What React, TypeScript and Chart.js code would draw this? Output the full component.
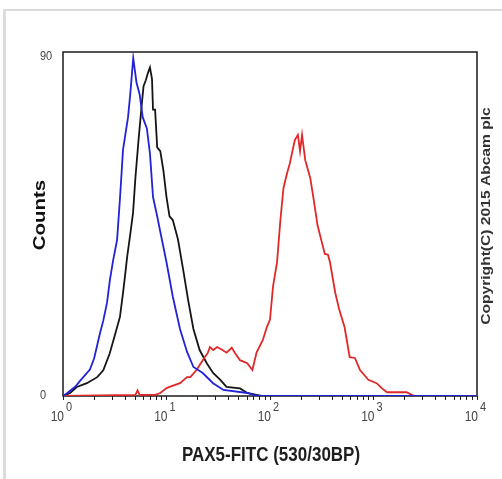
import React, { useEffect, useRef } from "react";
import { Chart, registerables } from "chart.js";

Chart.register(...registerables);

// Fluorescence intensity (channel value) and counts for each histogram
const blueX = [1.0, 1.1, 1.32, 1.46, 1.82, 2.0, 2.28, 2.45, 2.66, 2.84, 3.05, 3.33, 3.56, 3.8, 4.25, 4.46, 4.64, 4.77, 5.13, 5.5, 5.89, 6.46, 6.92, 7.41, 8.13, 8.71, 10.0, 11.5, 13.5, 15.8, 18.2, 22.4, 28.2, 35.5, 60.3, 69.2, 79.4, 10000];
const blueY = [0, 0.8, 2.5, 4, 7, 10, 16.7, 20, 24.7, 30.8, 36, 41.4, 52.8, 65.3, 74, 80, 85.7, 89.7, 83.2, 80.1, 74, 71, 64.4, 52.8, 47.7, 43.6, 35.5, 26.4, 17.8, 11.7, 7.7, 6.1, 3.4, 1.6, 0.8, 0.3, 0, 0];

const blackX = [1.0, 1.17, 1.36, 1.7, 2.14, 2.45, 2.82, 3.16, 3.55, 3.8, 3.98, 4.17, 4.47, 4.75, 5.01, 5.37, 5.75, 6.0, 6.31, 6.61, 6.92, 7.24, 7.41, 7.76, 8.13, 8.71, 9.33, 10.0, 10.7, 11.5, 12.9, 14.5, 16.2, 18.2, 20.9, 24.5, 28.2, 33.1, 38.0, 51.3, 60.3, 74.1, 83.2];
const blackY = [0, 0.8, 2.4, 3.4, 5, 6.8, 11.2, 16, 21, 27.3, 32, 37, 43, 48.6, 58, 68, 77, 82.2, 83.8, 85.7, 87.2, 84.2, 76, 76, 66, 65, 59.9, 52.8, 47.7, 46.7, 41.6, 33.5, 25.4, 17.8, 12.2, 8.7, 6.1, 4.3, 2.4, 2, 0.8, 0.3, 0];

const redX = [1.0, 5.01, 5.25, 5.5, 7.76, 8.71, 10.0, 10.7, 13.5, 15.8, 17.0, 19.5, 22.4, 25.1, 26.3, 28.2, 30.9, 34.7, 38.0, 42.7, 45.7, 51.3, 60.3, 67.6, 74.1, 85.1, 93.3, 100, 107, 117, 126, 135, 145, 155, 174, 186, 195, 204, 219, 245, 263, 288, 316, 339, 363, 380, 427, 468, 525, 589, 661, 741, 891, 1072, 1202, 1349, 2089, 2344, 2512];
const redY = [0, 0.3, 1.5, 0.3, 0.3, 0.8, 2.1, 2.4, 3.4, 5, 5, 6.9, 9.5, 11.5, 13, 12.2, 13, 12.2, 11.5, 12.8, 11.5, 9.5, 8.7, 6.9, 11.5, 14.8, 18.3, 20.3, 29.1, 35.5, 46.7, 55.2, 58.8, 61.6, 68, 69.3, 65, 69.3, 62.6, 57.8, 52.5, 45.3, 40.9, 37.7, 37.5, 35.5, 27.4, 22.8, 18.3, 10.3, 10.1, 6.9, 4.3, 3.4, 2.1, 1, 1, 0.3, 0];

const xTickExponents = [0, 1, 2, 3, 4];
const yTickValues = [0, 90];
const xTitle = "PAX5-FITC (530/30BP)";
const yTitle = "Counts";
const copyright = "Copyright(C) 2015 Abcam plc";

const W = 502;
const H = 479;
const FONT = '"Liberation Sans", Arial, sans-serif';

const toPoints = (xs: number[], ys: number[]) => xs.map((x, i) => ({ x, y: ys[i] }));

const decorPlugin = {
  id: "decor",
  beforeDraw(chart: any) {
    const ctx = chart.ctx;
    ctx.save();
    ctx.fillStyle = "#ffffff";
    ctx.fillRect(0, 0, W, H);
    ctx.fillStyle = "#dcdcdc";
    ctx.fillRect(3, 9, W, 2);
    ctx.fillRect(3, 9, 3, H);
    ctx.restore();
  },
  beforeDatasetsDraw(chart: any) {
    const { ctx, chartArea } = chart;
    ctx.save();
    ctx.strokeStyle = "#1a1a1a";
    ctx.lineWidth = 1.5;
    ctx.strokeRect(chartArea.left, chartArea.top, chartArea.right - chartArea.left, chartArea.bottom - chartArea.top);
    ctx.restore();
  },
  afterDraw(chart: any) {
    const { ctx, scales } = chart;
    const xs = scales.x;
    const ys = scales.y;
    ctx.save();
    // x tick labels 10^n
    ctx.fillStyle = "#444";
    xTickExponents.forEach((n) => {
      const px = xs.getPixelForValue(Math.pow(10, n));
      ctx.save();
      ctx.translate(px + 1, 417);
      ctx.scale(1, 1.2);
      ctx.font = `12px ${FONT}`;
      ctx.textAlign = "right";
      ctx.textBaseline = "middle";
      ctx.fillText("10", 0, 0);
      ctx.restore();
      ctx.save();
      ctx.translate(px + 3, 407);
      ctx.scale(1, 1.2);
      ctx.font = `11px ${FONT}`;
      ctx.textAlign = "left";
      ctx.textBaseline = "middle";
      ctx.fillText(String(n), 0, 0);
      ctx.restore();
    });
    // y tick labels
    yTickValues.forEach((v) => {
      const py = ys.getPixelForValue(v);
      ctx.save();
      ctx.translate(40, py);
      ctx.scale(1, 1.15);
      ctx.font = `11px ${FONT}`;
      ctx.textAlign = "left";
      ctx.textBaseline = "middle";
      ctx.fillText(String(v), 0, 0);
      ctx.restore();
    });
    // x title
    ctx.save();
    ctx.fillStyle = "#1e1e1e";
    ctx.translate((chart.chartArea.left + chart.chartArea.right) / 2 + 1, 455);
    ctx.scale(1, 1.2);
    ctx.font = `bold 17px ${FONT}`;
    ctx.textAlign = "center";
    ctx.textBaseline = "middle";
    ctx.fillText(xTitle, 0, 0);
    ctx.restore();
    // y title
    ctx.save();
    ctx.fillStyle = "#111";
    ctx.translate(40, 215);
    ctx.rotate(-Math.PI / 2);
    ctx.scale(1.2, 1);
    ctx.font = `bold 17px ${FONT}`;
    ctx.textAlign = "center";
    ctx.textBaseline = "middle";
    ctx.fillText(yTitle, 0, 0);
    ctx.restore();
    // copyright
    ctx.save();
    ctx.fillStyle = "#333";
    ctx.translate(486, 216);
    ctx.rotate(-Math.PI / 2);
    ctx.scale(1.2, 1);
    ctx.font = `bold 13px ${FONT}`;
    ctx.textAlign = "center";
    ctx.textBaseline = "middle";
    ctx.fillText(copyright, 0, 0);
    ctx.restore();
    ctx.restore();
  },
};

export default function App() {
  const ref = useRef<HTMLCanvasElement | null>(null);
  useEffect(() => {
    if (!ref.current) return;
    const chart = new Chart(ref.current, {
      type: "line",
      data: {
        datasets: [
          { label: "blue", data: toPoints(blueX, blueY), borderColor: "#2222d6", borderWidth: 1.8, pointRadius: 0, tension: 0 },
          { label: "red", data: toPoints(redX, redY), borderColor: "#e02828", borderWidth: 1.8, pointRadius: 0, tension: 0 },
          { label: "black", data: toPoints(blackX, blackY), borderColor: "#151515", borderWidth: 1.8, pointRadius: 0, tension: 0 },
        ],
      },
      options: {
        animation: false,
        responsive: false,
        devicePixelRatio: 1,
        layout: { padding: { top: 52, right: 25, left: 0, bottom: 0 } },
        plugins: { legend: { display: false }, tooltip: { enabled: false } },
        scales: {
          x: {
            type: "logarithmic",
            min: 1,
            max: 10000,
            afterBuildTicks: (scale: any) => {
              const t: any[] = [];
              for (let d = 0; d < 4; d++) {
                for (let k = 1; k <= 9; k++) t.push({ value: k * Math.pow(10, d), major: k === 1 });
              }
              t.push({ value: 10000, major: true });
              scale.ticks = t;
            },
            afterFit: (scale: any) => {
              scale.height = H - 396;
            },
            ticks: { display: false },
            grid: { drawOnChartArea: false, drawTicks: true, tickLength: 4, tickColor: "#222", lineWidth: 1 },
            border: { display: false },
          },
          y: {
            type: "linear",
            min: 0,
            max: 91.3,
            afterBuildTicks: (scale: any) => {
              scale.ticks = yTickValues.map((v) => ({ value: v }));
            },
            afterFit: (scale: any) => {
              scale.width = 63;
            },
            ticks: { display: false },
            grid: { display: false },
            border: { display: false },
          },
        },
      },
      plugins: [decorPlugin],
    });
    return () => chart.destroy();
  }, []);
  return (
    <canvas
      ref={ref}
      width={W}
      height={H}
      style={{ position: "absolute", left: 0, top: 0, width: W, height: H }}
    />
  );
}
